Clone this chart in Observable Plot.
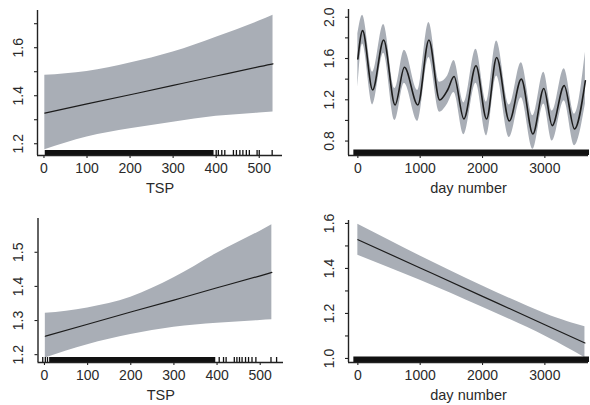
<!DOCTYPE html>
<html><head><meta charset="utf-8">
<script src="https://cdn.jsdelivr.net/npm/d3@7"></script>
<script src="https://cdn.jsdelivr.net/npm/@observablehq/plot@0.6"></script>
<style>
body{margin:0;background:#fff}
#wrap{position:relative;width:590px;height:405px;overflow:hidden}
.panel{position:absolute}
</style></head><body><div id="wrap"></div>
<script>
// ---- Panel 1: TSP (top-left)
const tsp1 = [2, 100, 200, 300, 400, 500, 532];
const tsp1Fit = [1.3275, 1.366, 1.404, 1.443, 1.482, 1.521, 1.533];
const tsp1Hi = [1.485, 1.501, 1.536, 1.582, 1.644, 1.711, 1.735];
const tsp1Lo = [1.175, 1.228, 1.262, 1.290, 1.314, 1.328, 1.332];
const tsp1RugDense = [3, 395];
const tsp1RugSparse = [400, 405, 413, 420, 440, 447, 455, 462, 470, 477, 495, 500, 530];

// ---- Panel 2: day number (top-right)
const day2 = [0, 76, 237, 414, 597, 747, 962, 1140, 1312, 1440, 1543, 1700, 1895, 2065, 2226, 2430, 2622, 2808, 2983, 3118, 3310, 3476, 3650];
const day2Fit = [1.596, 1.87, 1.295, 1.78, 1.15, 1.515, 1.15, 1.78, 1.198, 1.295, 1.425, 1.015, 1.53, 1.014, 1.61, 0.995, 1.40, 0.868, 1.31, 0.95, 1.337, 0.917, 1.385];
const day2Hi = [1.84, 2.02, 1.466, 1.93, 1.31, 1.68, 1.29, 1.95, 1.37, 1.43, 1.58, 1.17, 1.69, 1.175, 1.77, 1.15, 1.56, 1.045, 1.466, 1.09, 1.50, 1.06, 1.66];
const day2Lo = [1.32, 1.74, 1.15, 1.65, 1.00, 1.36, 0.99, 1.61, 1.08, 1.16, 1.27, 0.86, 1.36, 0.85, 1.43, 0.835, 1.22, 0.72, 1.16, 0.80, 1.19, 0.755, 1.16];
const dayRug = [0, 3652];

// ---- Panel 3: TSP (bottom-left)
const tsp3 = [2, 100, 200, 300, 400, 500, 527];
const tsp3Fit = [1.254, 1.289, 1.325, 1.360, 1.396, 1.431, 1.441];
const tsp3Hi = [1.321, 1.337, 1.368, 1.425, 1.497, 1.562, 1.581];
const tsp3Lo = [1.190, 1.229, 1.259, 1.280, 1.292, 1.300, 1.302];
const tsp3RugDense = [12, 397];
const tsp3RugSparse = [-4, 2, 7, 405, 415, 421, 440, 446, 452, 458, 466, 473, 481, 490, 525, 538];

// ---- Panel 4: day number (bottom-right)
const day4 = [0, 1000, 2000, 3000, 3643];
const day4Fit = [1.528, 1.402, 1.276, 1.150, 1.069];
const day4Hi = [1.596, 1.455, 1.322, 1.200, 1.141];
const day4Lo = [1.459, 1.348, 1.228, 1.100, 1.003];

// ---- Tick values
const tspTicks = [0, 100, 200, 300, 400, 500];
const dayTicks = [0, 1000, 2000, 3000];
const y1Ticks = [1.2, 1.3, 1.4, 1.5, 1.6, 1.7];
const y1Labels = [1.2, 1.4, 1.6];
const y2Ticks = [0.8, 1.0, 1.2, 1.4, 1.6, 1.8, 2.0];
const y2Labels = [0.8, 1.2, 1.6, 2.0];
const y3Ticks = [1.2, 1.3, 1.4, 1.5];
const y3Labels = [1.2, 1.3, 1.4, 1.5];
const y4Ticks = [1.0, 1.1, 1.2, 1.3, 1.4, 1.5, 1.6];
const y4Labels = [1.0, 1.2, 1.4, 1.6];

const BAND = "#a9aeb6", LINE = "#1c1c1c", AX = "#222", TXT = "#2a2a2a";
const FONT = "'Liberation Sans', Arial, Helvetica, sans-serif";
const fmt = d3.format(".1f");

function panel(o) {
  const fh = o.height - o.mt - o.mb;
  const data = o.x.map((x, i) => ({x, fit: o.fit[i], lo: o.lo[i], hi: o.hi[i]}));
  const marks = [
    Plot.areaY(data, {x: "x", y1: "lo", y2: "hi", fill: BAND, curve: o.bandCurve || o.curve}),
    Plot.line(data, {x: "x", y: "fit", stroke: LINE, strokeWidth: o.lw, curve: o.curve})
  ];
  if (o.rugDense) marks.push(Plot.rect([o.rugDense], {x1: d => d[0], x2: d => d[1], fill: "#111", insetTop: fh - o.rugH, insetLeft: o.rugPad || 0, insetRight: o.rugPad || 0}));
  if (o.rugSparse) marks.push(Plot.ruleX(o.rugSparse, {x: d => d, stroke: "#111", strokeWidth: 1.3, insetTop: fh - o.rugH}));
  marks.push(
    Plot.ruleX([o.xDomain[0]], {stroke: AX, strokeWidth: 1.4}),
    Plot.ruleY([o.yDomain[0]], {stroke: AX, strokeWidth: 1.4}),
    Plot.axisY(o.yTicks, {tickSize: 3, tickFormat: () => "", label: null, stroke: AX, strokeWidth: 1.1}),
    Plot.axisX(o.xTicks, {tickSize: 3, tickFormat: () => "", label: null, stroke: AX, strokeWidth: 1.1}),
    Plot.text(o.yLabels, {y: d => d, text: d => fmt(d), frameAnchor: "left", dx: -19, rotate: -90, textAnchor: "middle", lineAnchor: "middle", fontSize: 14, fill: TXT}),
    Plot.text(o.xTicks, {x: d => d, text: d => String(d), frameAnchor: "bottom", dy: 13, lineAnchor: "middle", fontSize: 14, fill: TXT}),
    Plot.text([o.title], {text: d => d, frameAnchor: "bottom", dy: 33, lineAnchor: "middle", fontSize: 14.5, fill: TXT})
  );
  const svg = Plot.plot({
    width: 295, height: o.height,
    marginLeft: o.ml, marginRight: o.mr, marginTop: o.mt, marginBottom: o.mb,
    x: {domain: o.xDomain},
    y: {domain: o.yDomain},
    style: {fontFamily: FONT, background: "transparent", overflow: "visible"},
    marks
  });
  const div = document.createElement("div");
  div.className = "panel";
  div.style.left = o.left + "px";
  div.style.top = o.top + "px";
  div.appendChild(svg);
  document.getElementById("wrap").appendChild(div);
}

panel({left: 0, top: 0, height: 200, ml: 37, mr: 13, mt: 10, mb: 45,
  x: tsp1, fit: tsp1Fit, hi: tsp1Hi, lo: tsp1Lo, curve: "natural", bandCurve: "monotone-x", lw: 1.2,
  xDomain: [-15, 554], yDomain: [1.151, 1.755], rugH: 5,
  rugDense: tsp1RugDense, rugSparse: tsp1RugSparse,
  xTicks: tspTicks, yTicks: y1Ticks, yLabels: y1Labels, title: "TSP"});

panel({left: 295, top: 0, height: 200, ml: 53, mr: 2, mt: 9, mb: 45,
  x: day2, fit: day2Fit, hi: day2Hi, lo: day2Lo, curve: "monotone-x", lw: 1.6,
  xDomain: [-150, 3700], yDomain: [0.66, 2.075], rugH: 5.5,
  rugDense: dayRug, rugPad: -4,
  xTicks: dayTicks, yTicks: y2Ticks, yLabels: y2Labels, title: "day number"});

panel({left: 0, top: 200, height: 205, ml: 37.5, mr: 12, mt: 18, mb: 43,
  x: tsp3, fit: tsp3Fit, hi: tsp3Hi, lo: tsp3Lo, curve: "natural", bandCurve: "monotone-x", lw: 1.2,
  xDomain: [-15, 554], yDomain: [1.177, 1.599], rugH: 5,
  rugDense: tsp3RugDense, rugSparse: tsp3RugSparse,
  xTicks: tspTicks, yTicks: y3Ticks, yLabels: y3Labels, title: "TSP"});

panel({left: 295, top: 200, height: 205, ml: 53, mr: 2, mt: 20, mb: 43,
  x: day4, fit: day4Fit, hi: day4Hi, lo: day4Lo, curve: "natural", lw: 1.2,
  xDomain: [-150, 3700], yDomain: [0.982, 1.613], rugH: 5.5,
  rugDense: dayRug, rugPad: -4,
  xTicks: dayTicks, yTicks: y4Ticks, yLabels: y4Labels, title: "day number"});
</script>
</body></html>
